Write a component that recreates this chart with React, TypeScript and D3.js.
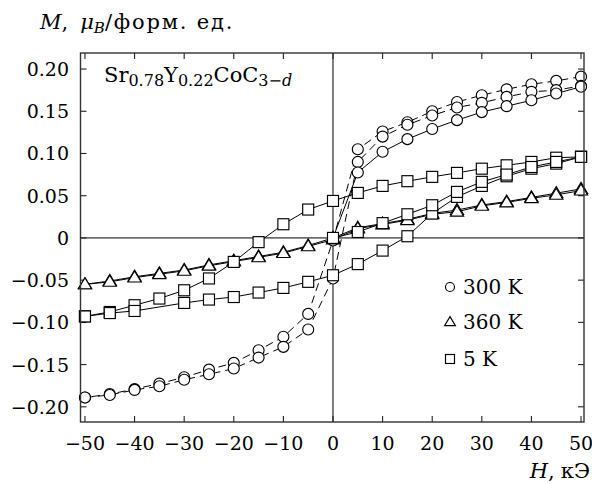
import React from "react";
import * as d3 from "d3";

// ---------- data ----------
const H_DESC = [50, 45, 40, 35, 30, 25, 20, 15, 10, 5, 0, -5, -10, -15, -20, -25, -30, -35, -40, -45, -50];
const H_ASC = [-50, -45, -40, -35, -30, -25, -20, -15, -10, -5, 0, 5, 10, 15, 20, 25, 30, 35, 40, 45, 50];
const H_VIRGIN = [0, 5, 10, 15, 20, 25, 30, 35, 40, 45, 50];
const H_5K_ASC = [-50, -45, -40, -30, -25, -20, -15, -10, -5, 0, 5, 10, 15, 20, 25, 30, 35, 40, 45, 50];

const m300Desc = [0.191, 0.186, 0.182, 0.176, 0.169, 0.161, 0.150, 0.137, 0.126, 0.105, -0.003, -0.090, -0.117, -0.133, -0.148, -0.156, -0.165, -0.1725, -0.179, -0.185, -0.189];
const m300Asc = [-0.189, -0.186, -0.180, -0.1757, -0.168, -0.1615, -0.1547, -0.1417, -0.129, -0.1085, -0.048, 0.090, 0.120, 0.134, 0.145, 0.1545, 0.160, 0.167, 0.173, 0.175, 0.180];
const m300Virgin = [0, 0.0775, 0.102, 0.117, 0.129, 0.1395, 0.149, 0.156, 0.163, 0.171, 0.179];

const m360Desc = [0.058, 0.053, 0.048, 0.043, 0.039, 0.033, 0.029, 0.022, 0.017, 0.012, 0.0, -0.009, -0.017, -0.022, -0.027, -0.032, -0.038, -0.042, -0.046, -0.051, -0.055];
const m360Asc = [-0.055, -0.052, -0.047, -0.043, -0.039, -0.033, -0.028, -0.023, -0.018, -0.010, -0.002, 0.011, 0.016, 0.021, 0.028, 0.031, 0.038, 0.042, 0.047, 0.051, 0.056];

const m5Desc = [0.096, 0.095, 0.090, 0.086, 0.082, 0.077, 0.0723, 0.0672, 0.0616, 0.0533, 0.0438, 0.0336, 0.0162, -0.005, -0.0284, -0.048, -0.062, -0.0718, -0.0797, -0.0877, -0.0928];
const m5Asc = [-0.093, -0.089, -0.0865, -0.077, -0.073, -0.070, -0.0647, -0.0592, -0.052, -0.0442, -0.031, -0.015, 0.002, 0.0289, 0.0486, 0.0616, 0.073, 0.082, 0.088, 0.096];
const m5Virgin = [0, 0.007, 0.0175, 0.028, 0.0387, 0.0545, 0.0664, 0.075, 0.084, 0.090, 0.096];

const X_TICKS = [-50, -40, -30, -20, -10, 0, 10, 20, 30, 40, 50];
const Y_TICKS = [-0.2, -0.15, -0.1, -0.05, 0, 0.05, 0.1, 0.15, 0.2];
const LEGEND = ["300 K", "360 K", "5 K"];

// ---------- layout ----------
const W = 592, HGT = 484;
const FONT = "DejaVu Serif";
const FS = 19;

type Series = { h: number[]; m: number[]; marker: "circle" | "triangle" | "square"; dashed: boolean };

const SERIES: Series[] = [
  { h: H_DESC, m: m300Desc, marker: "circle", dashed: true },
  { h: H_ASC, m: m300Asc, marker: "circle", dashed: true },
  { h: H_VIRGIN, m: m300Virgin, marker: "circle", dashed: false },
  { h: H_DESC, m: m360Desc, marker: "triangle", dashed: false },
  { h: H_ASC, m: m360Asc, marker: "triangle", dashed: false },
  { h: H_DESC, m: m5Desc, marker: "square", dashed: false },
  { h: H_5K_ASC, m: m5Asc, marker: "square", dashed: false },
  { h: H_VIRGIN, m: m5Virgin, marker: "square", dashed: false },
];

function Marker({ type, x, y, s }: { type: string; x: number; y: number; s: number }) {
  const common = { fill: "#fff", stroke: "#000", strokeWidth: 1.15 };
  if (type === "circle") return <circle cx={x} cy={y} r={s * 0.5} {...common} />;
  if (type === "square") return <rect x={x - s * 0.5} y={y - s * 0.5} width={s} height={s} {...common} />;
  const w = s * 1.2, h = s * 1.0;
  return <path d={`M${x},${y - h * 0.6}L${x + w / 2},${y + h * 0.4}L${x - w / 2},${y + h * 0.4}Z`} {...common} />;
}

export default function App() {
  const x = d3.scaleLinear().domain([-50.9, 50.6]).range([80.5, 584]);
  const y = d3.scaleLinear().domain([-0.218, 0.219]).range([422, 53]);
  const [x0, x1] = x.range();
  const [y0, y1] = y.range();
  const line = d3.line<[number, number]>().x((d) => x(d[0])).y((d) => y(d[1]));
  const fmtY = (v: number) => (v === 0 ? "0" : (v < 0 ? "\u2212" : "") + Math.abs(v).toFixed(2));
  const fmtX = (v: number) => (v < 0 ? "\u2212" : "") + Math.abs(v);
  const tl = 6;

  return (
    <svg width={W} height={HGT} style={{ position: "absolute", left: 0, top: 0, background: "#fff" }} fontFamily={FONT} fontSize={FS}>
      <rect x={0} y={0} width={W} height={HGT} fill="#fff" />
      {/* zero lines */}
      <line x1={x0} x2={x1} y1={y(0)} y2={y(0)} stroke="#000" strokeWidth={1} />
      <line x1={x(0)} x2={x(0)} y1={y0} y2={y1} stroke="#000" strokeWidth={1} />
      {/* ticks */}
      {X_TICKS.map((t) => (
        <g key={"xt" + t}>
          <line x1={x(t)} x2={x(t)} y1={y0} y2={y0 - tl} stroke="#222" strokeWidth={1.1} />
          <line x1={x(t)} x2={x(t)} y1={y1} y2={y1 + tl} stroke="#222" strokeWidth={1.1} />
          <text x={x(t)} y={450} textAnchor="middle">{fmtX(t)}</text>
        </g>
      ))}
      {Y_TICKS.map((t) => (
        <g key={"yt" + t}>
          <line x1={x0} x2={x0 + tl} y1={y(t)} y2={y(t)} stroke="#222" strokeWidth={1.1} />
          <line x1={x1} x2={x1 - tl} y1={y(t)} y2={y(t)} stroke="#222" strokeWidth={1.1} />
          <text x={69} y={y(t) + 7} textAnchor="end">{fmtY(t)}</text>
        </g>
      ))}
      {/* series */}
      {SERIES.map((s, i) => {
        const pts: [number, number][] = s.h.map((h, j) => [h, s.m[j]]);
        return (
          <g key={"s" + i}>
            <path d={line(pts) || ""} fill="none" stroke="#000" strokeWidth={1} strokeDasharray={s.dashed ? "8,5" : undefined} />
            {pts.map((p, j) => (
              <Marker key={j} type={s.marker} x={x(p[0])} y={y(p[1])} s={11} />
            ))}
          </g>
        );
      })}
      {/* frame */}
      <rect x={x0} y={y1} width={x1 - x0} height={y0 - y1} fill="none" stroke="#333" strokeWidth={1.4} />
      {/* formula */}
      <text x={104} y={82} fontSize={21}>
        <tspan>Sr</tspan>
        <tspan fontSize={16} dy={4}>0.78</tspan>
        <tspan dy={-4}>Y</tspan>
        <tspan fontSize={16} dy={4}>0.22</tspan>
        <tspan dy={-4}>CoC</tspan>
        <tspan fontSize={16} dy={4}>3{"\u2212"}</tspan>
        <tspan fontSize={16} fontStyle="italic">d</tspan>
      </text>
      {/* axis titles */}
      <text x={40} y={29} fontSize={21}>
        <tspan fontStyle="italic">M</tspan>
        <tspan>,</tspan>
        <tspan dx={12} fontStyle="italic">μ</tspan>
        <tspan fontSize={15} fontStyle="italic" dy={4}>B</tspan>
        <tspan dy={-4} letterSpacing={1.8}>/форм. ед.</tspan>
      </text>
      <text x={590} y={478} textAnchor="end" fontSize={21}>
        <tspan fontStyle="italic">H</tspan>
        <tspan>,</tspan>
        <tspan dx={6}>кЭ</tspan>
      </text>
      {/* legend */}
      {LEGEND.map((lab, i) => {
        const cy = [287, 322, 359][i];
        const type = ["circle", "triangle", "square"][i];
        return (
          <g key={"lg" + i}>
            <Marker type={type} x={450} y={cy} s={9} />
            <text x={463} y={cy + 7} fontSize={20}>{lab}</text>
          </g>
        );
      })}
    </svg>
  );
}
